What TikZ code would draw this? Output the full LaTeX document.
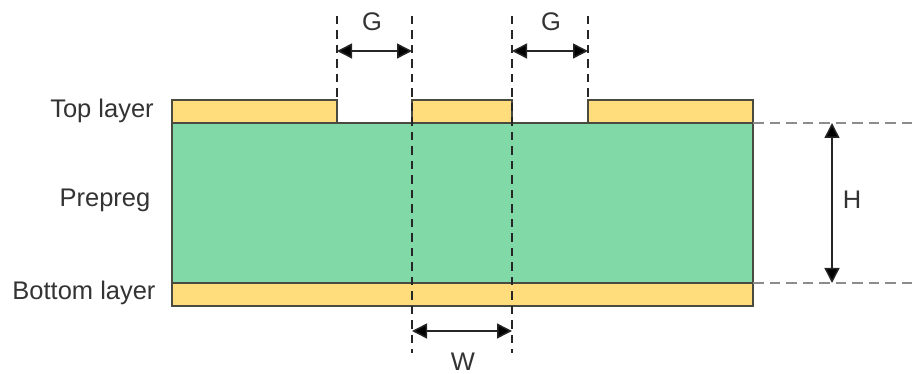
\documentclass[tikz,border=0pt]{standalone}
\usepackage{fontspec}
\setmainfont{Liberation Sans}
\usetikzlibrary{arrows.meta}
\definecolor{copper}{HTML}{FFDD7C}
\definecolor{prepreg}{HTML}{82D9A8}
\definecolor{edge}{HTML}{4A4A40}
\definecolor{label}{HTML}{333333}
\tikzset{
    layer/.style={draw=edge, line width=0.026cm},
    guide/.style={draw=black!85, line width=0.024cm, dash pattern=on 0.17cm off 0.12cm},
    level/.style={draw=black!45, line width=0.04cm, dash pattern=on 0.21cm off 0.12cm},
    size/.style={draw=black!85, line width=0.03cm, {Triangle[length=0.3cm,width=0.3cm,fill=black]}-{Triangle[length=0.3cm,width=0.3cm,fill=black]}},
    txt/.style={text=label, font=\fontsize{14.5pt}{16pt}\selectfont, inner sep=0pt}
}
\begin{document}
\begin{tikzpicture}
    \useasboundingbox (0, 0) rectangle (18.38, 7.48);

    % board
    \draw[layer, fill=copper] (3.44, 1.36) rectangle (15.06, 1.82);
    \draw[layer, fill=prepreg] (3.44, 1.82) rectangle (15.06, 5.02);
    \draw[layer, fill=copper] (3.44, 5.02) rectangle (6.74, 5.48);
    \draw[layer, fill=copper] (8.24, 5.02) rectangle (10.24, 5.48);
    \draw[layer, fill=copper] (11.76, 5.02) rectangle (15.06, 5.48);

    % guide ends
    \coordinate (g1top) at (6.74, 7.16);
    \coordinate (g1bot) at (6.74, 5.48);
    \coordinate (w1top) at (8.24, 7.16);
    \coordinate (w1bot) at (8.24, 0.42);
    \coordinate (w2top) at (10.24, 7.16);
    \coordinate (w2bot) at (10.24, 0.42);
    \coordinate (g2top) at (11.76, 7.16);
    \coordinate (g2bot) at (11.76, 5.48);
    \draw[guide] (g1top) -- (g1bot);
    \draw[guide] (w1top) -- (w1bot);
    \draw[guide] (w2top) -- (w2bot);
    \draw[guide] (g2top) -- (g2bot);

    \coordinate (htop) at (15.06, 5.02);
    \coordinate (htopend) at (18.3, 5.02);
    \coordinate (hbot) at (15.06, 1.82);
    \coordinate (hbotend) at (18.3, 1.82);
    \draw[level] (htop) -- (htopend);
    \draw[level] (hbot) -- (hbotend);

    % dimensions
    \coordinate (g1l) at (6.74, 6.46);
    \coordinate (g1r) at (8.24, 6.46);
    \coordinate (g2l) at (10.24, 6.46);
    \coordinate (g2r) at (11.76, 6.46);
    \coordinate (wl) at (8.24, 0.86);
    \coordinate (wr) at (10.24, 0.86);
    \coordinate (hu) at (16.64, 5.02);
    \coordinate (hd) at (16.64, 1.82);
    \draw[size] (g1l) -- (g1r);
    \draw[size] (g2l) -- (g2r);
    \draw[size] (wl) -- (wr);
    \draw[size] (hu) -- (hd);

    \node[txt] (g1text) at (7.44, 7.04) {G};
    \node[txt] (g2text) at (11.02, 7.04) {G};
    \node[txt] (wtext) at (9.26, 0.24) {W};
    \node[txt] (htext) at (17.04, 3.48) {H};

    \node[txt] (toptext) at (2.04, 5.26) {Top layer};
    \node[txt] (pretext) at (2.1, 3.48) {Prepreg};
    \node[txt] (bottext) at (1.68, 1.62) {Bottom layer};
\end{tikzpicture}
\end{document}
